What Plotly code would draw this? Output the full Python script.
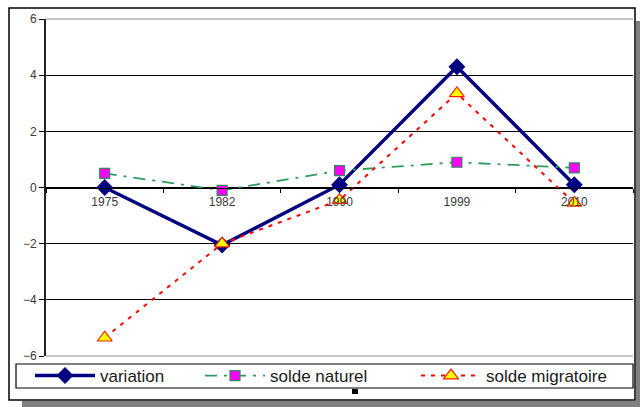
import plotly.graph_objects as go

years = ["1975", "1982", "1990", "1999", "2010"]
variation = [0.0, -2.05, 0.1, 4.3, 0.1]
solde_naturel = [0.5, -0.1, 0.6, 0.9, 0.7]
solde_migratoire = [-5.35, -2.0, -0.45, 3.35, -0.55]
y_ticks = [-6, -4, -2, 0, 2, 4, 6]

FONT = "Liberation Sans, Arial, sans-serif"

fig = go.Figure()
fig.add_trace(go.Scatter(
    x=years, y=variation, name="variation", mode="lines+markers",
    line=dict(color="#000080", width=3.5),
    marker=dict(symbol="diamond", size=13, color="#000080"),
    legend="legend",
))
fig.add_trace(go.Scatter(
    x=years, y=solde_naturel, name="solde naturel", mode="lines+markers",
    line=dict(color="#2E9B5E", width=1.8, dash="12px,7px,3px,7px"),
    marker=dict(symbol="square", size=10, color="#FF00FF",
                line=dict(color="#2E8B57", width=1.2)),
    legend="legend2",
))
fig.add_trace(go.Scatter(
    x=years, y=solde_migratoire, name="solde migratoire", mode="lines+markers",
    line=dict(color="#FF0000", width=2, dash="4px,6px"),
    marker=dict(symbol="triangle-up", size=13, color="#FFFF00",
                line=dict(color="#FF2000", width=1.2)),
    legend="legend3",
))

W, H = 640, 407
L, R, T, B = 46, 633, 19, 356
pw, ph = R - L, B - T

def px(x):
    return (x - L) / pw

def py(y):
    return (B - y) / ph

shapes = [
    # shadow
    dict(type="rect", xref="paper", yref="paper", x0=px(636), x1=px(641),
         y0=py(408), y1=py(21), fillcolor="#808080", line_width=0, layer="below"),
    dict(type="rect", xref="paper", yref="paper", x0=px(22), x1=px(641),
         y0=py(408), y1=py(401), fillcolor="#808080", line_width=0, layer="below"),
    # frame
    dict(type="rect", xref="paper", yref="paper", x0=px(9), x1=px(635),
         y0=py(400), y1=py(8), fillcolor="white",
         line=dict(color="black", width=1.5), layer="below"),
    # grey top/bottom plot borders
    dict(type="line", xref="paper", yref="paper", x0=0, x1=1, y0=1, y1=1,
         line=dict(color="#8c8c8c", width=1.2)),
    dict(type="line", xref="paper", yref="paper", x0=0, x1=1, y0=0, y1=0,
         line=dict(color="#8c8c8c", width=1.2)),
    # legend box
    dict(type="rect", xref="paper", yref="paper", x0=px(16), x1=px(633),
         y0=py(388), y1=py(364), line=dict(color="black", width=1.2)),
    # small black mark
    dict(type="rect", xref="paper", yref="paper", x0=px(352), x1=px(358),
         y0=py(394), y1=py(389), fillcolor="black", line_width=0),
]

def leg(xpix):
    return dict(
        orientation="h", xref="container", yref="container",
        x=xpix / W, y=1 - 358 / H, xanchor="left", yanchor="top",
        borderwidth=0, bgcolor="rgba(0,0,0,0)",
        font=dict(size=17, color="#1a1a1a", family=FONT),
        itemwidth=60,
    )

fig.update_layout(
    width=W, height=H,
    margin=dict(l=L, r=W - R, t=T, b=H - B, autoexpand=False),
    paper_bgcolor="white", plot_bgcolor="white",
    font=dict(family=FONT, color="#333333"),
    showlegend=True,
    legend=leg(30),
    legend2=leg(200),
    legend3=leg(416),
    xaxis=dict(
        type="category", anchor="free", position=0.5, range=[-0.5, 4.5],
        showline=True, linecolor="black", linewidth=1.2,
        ticks="outside", ticklen=4, tickcolor="black", tickson="boundaries",
        showgrid=False, zeroline=False, ticklabelstandoff=3,
        tickfont=dict(size=12, color="#3a3a3a", family=FONT),
    ),
    yaxis=dict(
        range=[-6, 6], tickvals=y_ticks,
        showline=True, linecolor="#222222", linewidth=2,
        ticks="outside", ticklen=5, tickcolor="black",
        showgrid=True, gridcolor="black", gridwidth=1,
        zeroline=False,
        tickfont=dict(size=12, color="#3a3a3a", family=FONT),
    ),
    shapes=shapes,
)

fig.write_html("out.html", config={"displayModeBar": False},
               post_script="document.body.style.margin='0';")
